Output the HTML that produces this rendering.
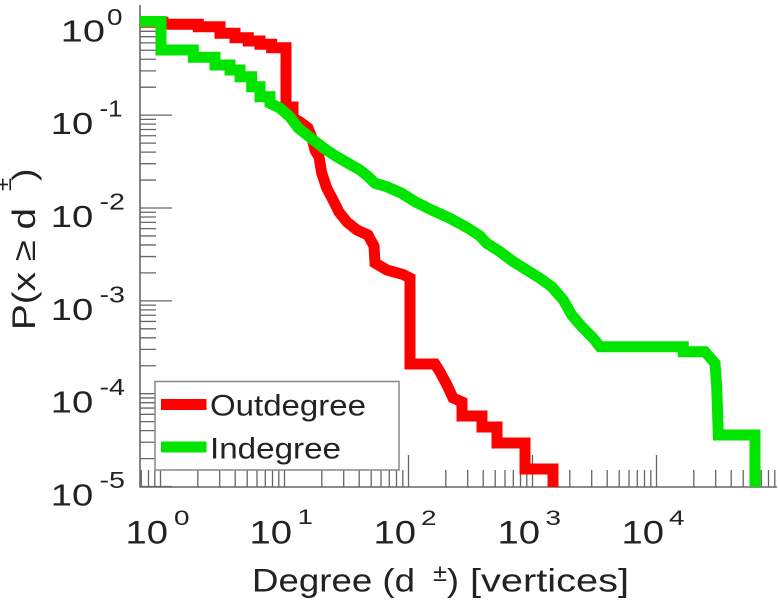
<!DOCTYPE html>
<html>
<head>
<meta charset="utf-8">
<style>
  html,body{margin:0;padding:0;background:#fff;}
  svg{display:block;}
  text{font-family:"Liberation Sans",Arial,sans-serif;fill:#222;}
</style>
</head>
<body>
<svg width="778" height="600" viewBox="0 0 778 600" xmlns="http://www.w3.org/2000/svg">
  <rect x="0" y="0" width="778" height="600" fill="#fff"/>

  <!-- ticks -->
  <g stroke="#666" stroke-width="1.3" fill="none">
    <path d="M140,22.3H172 M140,115.15H172 M140,208H172 M140,300.85H172 M140,393.7H172 M140,486.55H172"/>
    <path d="M140,87.2H156 M140,70.85H156 M140,59.25H156 M140,50.25H156 M140,42.9H156 M140,36.68H156 M140,31.3H156 M140,26.55H156
             M140,180.05H156 M140,163.7H156 M140,152.1H156 M140,143.1H156 M140,135.75H156 M140,129.53H156 M140,124.15H156 M140,119.4H156
             M140,272.9H156 M140,256.55H156 M140,244.95H156 M140,235.95H156 M140,228.6H156 M140,222.38H156 M140,217H156 M140,212.25H156
             M140,365.75H156 M140,349.4H156 M140,337.8H156 M140,328.8H156 M140,321.45H156 M140,315.23H156 M140,309.85H156 M140,305.1H156
             M140,458.6H156 M140,442.25H156 M140,430.65H156 M140,421.65H156 M140,414.3H156 M140,408.08H156 M140,402.7H156 M140,397.95H156"/>
    <path d="M160.5,487V455 M284.5,487V455 M408.5,487V455 M532.5,487V455 M656.5,487V455"/>
    <path d="M141.3,487V470 M148.5,487V470 M154.8,487V470
             M197.8,487V470 M219.7,487V470 M235.2,487V470 M247.2,487V470 M257,487V470 M265.3,487V470 M272.5,487V470 M278.8,487V470
             M321.8,487V470 M343.7,487V470 M359.2,487V470 M371.2,487V470 M381,487V470 M389.3,487V470 M396.5,487V470 M402.8,487V470
             M445.8,487V470 M467.7,487V470 M483.2,487V470 M495.2,487V470 M505,487V470 M513.3,487V470 M520.5,487V470 M526.8,487V470
             M569.8,487V470 M591.7,487V470 M607.2,487V470 M619.2,487V470 M629,487V470 M637.3,487V470 M644.5,487V470 M650.8,487V470
             M693.8,487V470 M715.7,487V470 M731.2,487V470 M743.2,487V470 M753,487V470 M761.3,487V470 M768.5,487V470 M774.8,487V470"/>
  </g>
  <path d="M140,5 V487 H777" stroke="#666" stroke-width="1.6" fill="none"/>

  <!-- Outdegree (red) -->
  <path fill="none" stroke="#ff0000" stroke-width="11" stroke-linejoin="miter" stroke-linecap="butt"
    d="M140,22.3 H163 V24.3 H198.3 V26.7 H220 V33.3 H235 V37.7 H248.3 V41 H260 V44.3 H271.7 V47.7 H286 V107 H293 V118
       L300,122 L308,128 L312,138 L315,150 L319,157 L321.7,173 L326.7,188 L333,200 L339,212 L347,222 L357,230 L368,235
       L374,246 L375,263 L387,270 L403,274.5 L410,278 V364 H435 L440,372 L447,385 L453,398 L462,402 V416 H482 V427 H497 V443 H525 V469 H553 V487"/>

  <!-- Indegree (green) -->
  <path fill="none" stroke="#00e400" stroke-width="11" stroke-linejoin="miter" stroke-linecap="butt"
    d="M140,21.5 H161 V50 H193.3 V57.3 H215 V65 H230 V70 H240 V76.7 H251.7 V86.7 H260 V96.7 H270 V103.3
       L280,108 L290,117 L298.3,128 L313.3,140 L325,149 L336.7,156.7 L348.3,163.3 L360,170 L368.3,176.7 L375,183.3
       L386.7,186.7 L401.7,193.3 L415,201.7 L431.7,210 L450,218.3 L468.3,228.3 L480,236 L486.7,243.3 L500,251.7
       L513.3,261.7 L526.7,270 L540,278.3 L551.7,286.7 L563.3,300 L571.7,315 L581.7,326.7 L593.3,338.3 L600,346.7
       H683.3 V351.7 H705 L715,363.3 L716.7,386.7 L718.3,435 H755 V487"/>

  <!-- Legend -->
  <rect x="155" y="381.5" width="244" height="88.5" fill="#fff" stroke="#888" stroke-width="1.5"/>
  <line x1="161" y1="404.5" x2="206.5" y2="404.5" stroke="#ff0000" stroke-width="11"/>
  <line x1="161" y1="447" x2="206.5" y2="447" stroke="#00e400" stroke-width="11"/>
  <text x="210" y="415.7" font-size="30" textLength="156" lengthAdjust="spacingAndGlyphs">Outdegree</text>
  <text x="210" y="458.3" font-size="30" textLength="131" lengthAdjust="spacingAndGlyphs">Indegree</text>

  <!-- Y tick labels -->
  <g font-size="31">
    <text x="60.7" y="41.5" textLength="44.3" lengthAdjust="spacingAndGlyphs">10</text>
    <text x="50.8" y="134" textLength="42.5" lengthAdjust="spacingAndGlyphs">10</text>
    <text x="50.8" y="227" textLength="42.5" lengthAdjust="spacingAndGlyphs">10</text>
    <text x="50.8" y="320" textLength="42.5" lengthAdjust="spacingAndGlyphs">10</text>
    <text x="50.8" y="412.7" textLength="42.5" lengthAdjust="spacingAndGlyphs">10</text>
    <text x="50.8" y="505.5" textLength="42.5" lengthAdjust="spacingAndGlyphs">10</text>
  </g>
  <g font-size="23">
    <text x="107" y="25" textLength="15.5" lengthAdjust="spacingAndGlyphs">0</text>
    <text x="99.5" y="116.6" textLength="23" lengthAdjust="spacingAndGlyphs">-1</text>
    <text x="99.5" y="209.5" textLength="25.5" lengthAdjust="spacingAndGlyphs">-2</text>
    <text x="99.5" y="302.3" textLength="25.5" lengthAdjust="spacingAndGlyphs">-3</text>
    <text x="99.5" y="395.2" textLength="25.5" lengthAdjust="spacingAndGlyphs">-4</text>
    <text x="99.5" y="488" textLength="25.5" lengthAdjust="spacingAndGlyphs">-5</text>
  </g>

  <!-- X tick labels -->
  <g font-size="32">
    <text x="125.5" y="543.3" textLength="42.5" lengthAdjust="spacingAndGlyphs">10</text>
    <text x="249.5" y="543.3" textLength="42.5" lengthAdjust="spacingAndGlyphs">10</text>
    <text x="373.5" y="543.3" textLength="42.5" lengthAdjust="spacingAndGlyphs">10</text>
    <text x="497.5" y="543.3" textLength="42.5" lengthAdjust="spacingAndGlyphs">10</text>
    <text x="621.5" y="543.3" textLength="42.5" lengthAdjust="spacingAndGlyphs">10</text>
  </g>
  <g font-size="21">
    <text x="174" y="525" textLength="15.5" lengthAdjust="spacingAndGlyphs">0</text>
    <text x="297.5" y="524" textLength="15.5" lengthAdjust="spacingAndGlyphs">1</text>
    <text x="421" y="525" textLength="15.5" lengthAdjust="spacingAndGlyphs">2</text>
    <text x="545.5" y="525" textLength="15.5" lengthAdjust="spacingAndGlyphs">3</text>
    <text x="669" y="525" textLength="15.5" lengthAdjust="spacingAndGlyphs">4</text>
  </g>

  <!-- X label -->
  <text x="252" y="591.7" font-size="32" textLength="163" lengthAdjust="spacingAndGlyphs">Degree (d</text>
  <text x="433" y="581" font-size="24" textLength="14" lengthAdjust="spacingAndGlyphs">±</text>
  <text x="447" y="591.7" font-size="32" textLength="12" lengthAdjust="spacingAndGlyphs">)</text>
  <text x="470" y="591.7" font-size="32" textLength="159" lengthAdjust="spacingAndGlyphs">[vertices]</text>

  <!-- Y label -->
  <g transform="translate(35,330) rotate(-90)">
    <text x="0" y="0" font-size="32" textLength="122" lengthAdjust="spacingAndGlyphs">P(x ≥ d</text>
    <text x="139" y="-24" font-size="22" textLength="13" lengthAdjust="spacingAndGlyphs">±</text>
    <text x="149" y="0" font-size="32" textLength="12.5" lengthAdjust="spacingAndGlyphs">)</text>
  </g>
</svg>
</body>
</html>
